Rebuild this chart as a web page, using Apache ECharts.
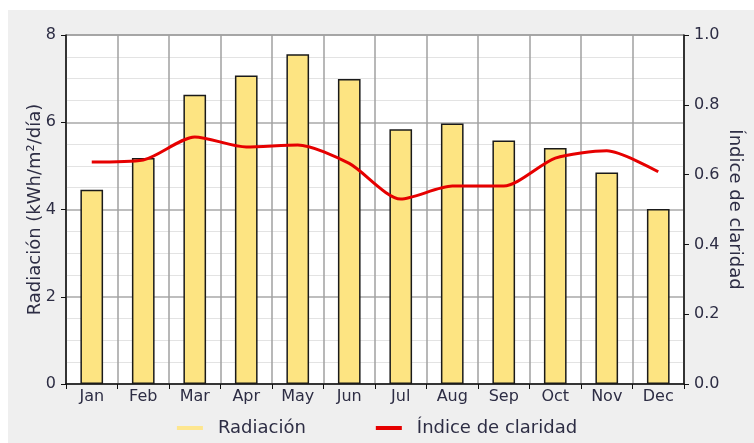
<!DOCTYPE html>
<html>
<head>
<meta charset="utf-8">
<script src="https://cdn.jsdelivr.net/npm/echarts@6/dist/echarts.min.js"></script>
<style>
  html, body { margin: 0; padding: 0; background: #ffffff; }
  #chart { width: 754px; height: 443px; }
</style>
</head>
<body>
<div id="chart"></div>
<script>
// Monthly data
const months = ['Jan', 'Feb', 'Mar', 'Apr', 'May', 'Jun', 'Jul', 'Aug', 'Sep', 'Oct', 'Nov', 'Dec'];
const radiacion = [4.45, 5.18, 6.63, 7.07, 7.56, 6.99, 5.84, 5.97, 5.58, 5.41, 4.85, 4.01];
const claridad = [0.636, 0.642, 0.708, 0.679, 0.685, 0.632, 0.530, 0.567, 0.567, 0.647, 0.668, 0.608];
const leftTicks = [0, 2, 4, 6, 8];
const rightTicks = [0, 0.2, 0.4, 0.6, 0.8, 1.0];

const textColor = '#2d2d44';
const font = 'DejaVu Sans';

const chart = echarts.init(document.getElementById('chart'), null, { renderer: 'canvas' });

chart.setOption({
  animation: false,
  backgroundColor: '#ffffff',
  graphic: [{
    type: 'rect',
    z: -10,
    silent: true,
    shape: { x: 8, y: 10, width: 746, height: 433 },
    style: { fill: '#efefef' }
  }],
  grid: {
    left: 66, right: 70, top: 35, bottom: 59,
    outerBoundsMode: 'none',
    containLabel: false,
    show: true, backgroundColor: '#ffffff', borderColor: '#444', borderWidth: 1
  },
  legend: {
    bottom: 1,
    left: 'center',
    itemGap: 70,
    itemWidth: 26,
    itemHeight: 4,
    textStyle: { fontFamily: font, fontSize: 18, color: textColor, padding: [0, 0, 0, 10] },
    data: [
      { name: 'Radiación', icon: 'rect', itemStyle: { color: '#fde68f', borderWidth: 0 } },
      { name: 'Índice de claridad', icon: 'rect', itemStyle: { color: '#e60000' } }
    ]
  },
  xAxis: {
    type: 'category',
    data: months,
    boundaryGap: true,
    axisLine: { lineStyle: { color: '#111', width: 1.5 } },
    axisTick: { show: true, length: 5, lineStyle: { color: '#111' } },
    axisLabel: { fontFamily: font, fontSize: 16, color: textColor, margin: 5 },
    splitLine: { show: true, lineStyle: { color: '#a0a0a0', width: 1.5 } }
  },
  yAxis: [{
    type: 'value',
    min: leftTicks[0], max: leftTicks[leftTicks.length - 1], interval: 2,
    name: 'Radiación (kWh/m²/día)',
    nameLocation: 'middle',
    nameGap: 22,
    nameMoveOverlap: false,
    nameTextStyle: { fontFamily: font, fontSize: 18, color: textColor },
    axisLine: { show: true, lineStyle: { color: '#111', width: 1.5 } },
    axisTick: { show: true, length: 5, lineStyle: { color: '#111' } },
    axisLabel: { fontFamily: font, fontSize: 16, color: textColor, margin: 10 },
    splitLine: { show: true, lineStyle: { color: '#a8a8a8', width: 1.5 } },
    minorTick: { show: false, splitNumber: 4 },
    minorSplitLine: { show: true, lineStyle: { color: '#e3e3e3', width: 1 } }
  }, {
    type: 'value',
    min: rightTicks[0], max: rightTicks[rightTicks.length - 1], interval: 0.2,
    name: 'Índice de claridad',
    nameLocation: 'middle',
    nameGap: 42,
    nameMoveOverlap: false,
    nameRotate: -90,
    nameTextStyle: { fontFamily: font, fontSize: 18, color: textColor },
    axisLine: { show: true, lineStyle: { color: '#111', width: 1.5 } },
    axisTick: { show: true, length: 5, lineStyle: { color: '#111' } },
    axisLabel: { fontFamily: font, fontSize: 16, color: textColor, margin: 10,
      formatter: v => v.toFixed(1) },
    splitLine: { show: false }
  }],
  series: [{
    name: 'Radiación',
    type: 'bar',
    yAxisIndex: 0,
    data: radiacion,
    barWidth: '44%',
    itemStyle: { color: '#fde482', borderColor: '#1a1a1a', borderWidth: 1.5 }
  }, {
    name: 'Índice de claridad',
    type: 'line',
    yAxisIndex: 1,
    data: claridad,
    smooth: 0.25,
    showSymbol: false,
    lineStyle: { color: '#e60000', width: 3 },
    itemStyle: { color: '#e60000' }
  }]
});
</script>
</body>
</html>
